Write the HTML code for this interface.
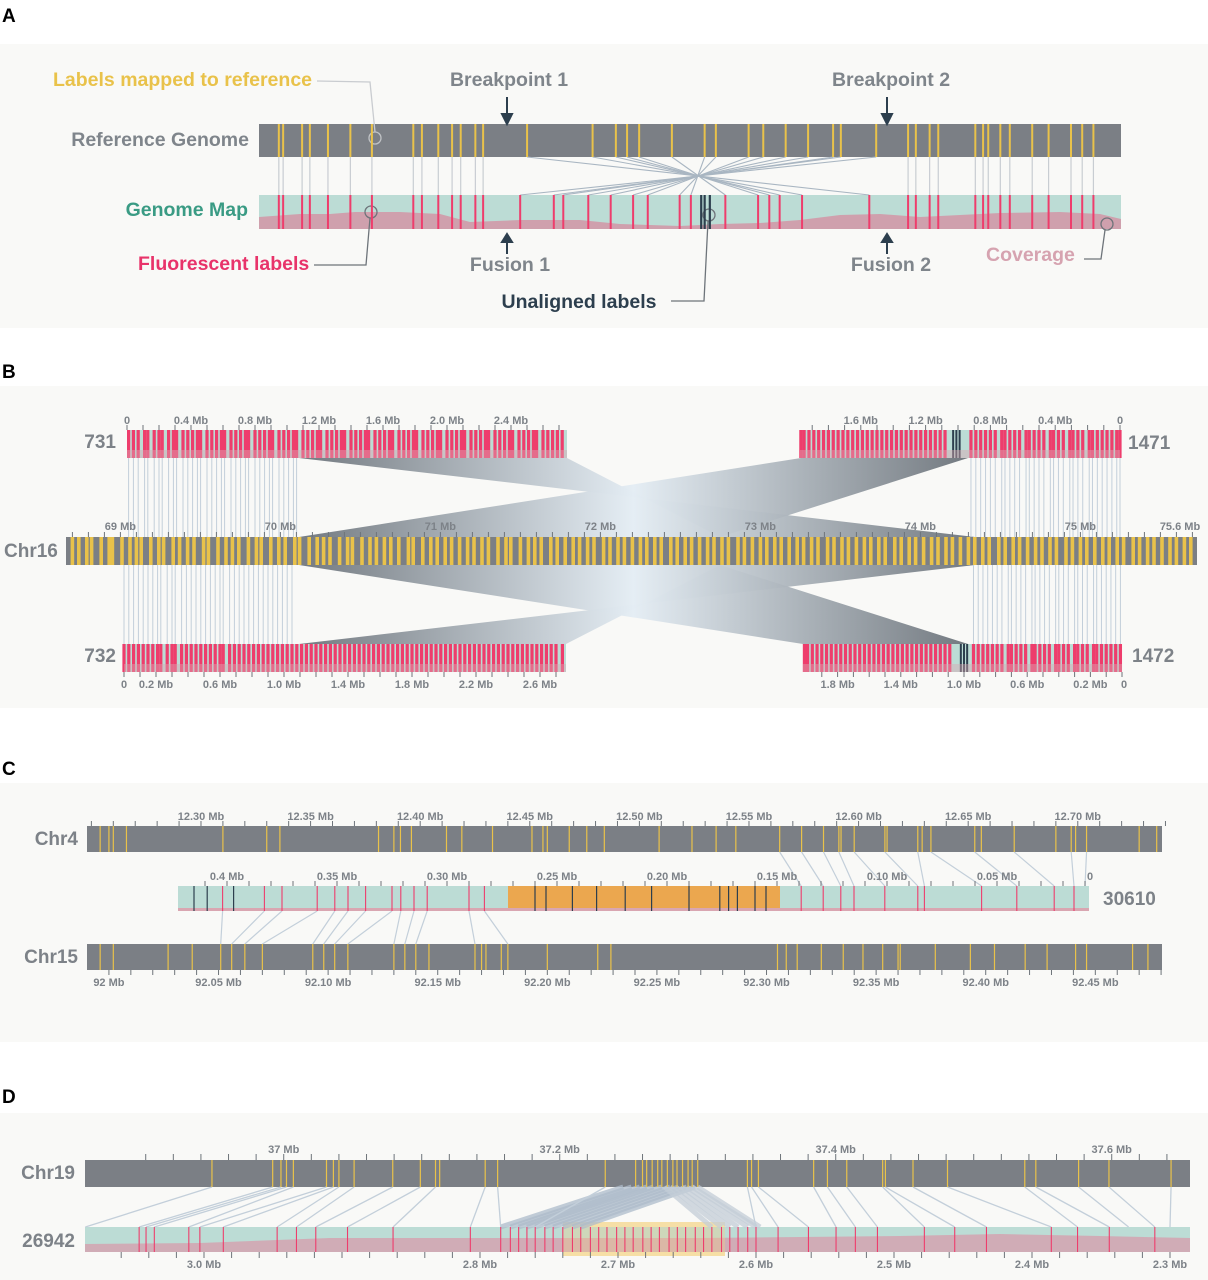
<!DOCTYPE html>
<html><head><meta charset="utf-8">
<style>
html,body{margin:0;padding:0;background:#fff;}
svg{display:block;font-family:"Liberation Sans",Arial,sans-serif;font-weight:bold;}
.t{fill:#7d8288;font-size:11px;}
.lab{fill:#7d8288;font-size:19px;}
.pl{fill:#000;font-size:19px;}
</style></head>
<body>
<svg id="fig" width="1208" height="1280" viewBox="0 0 1208 1280" xmlns="http://www.w3.org/2000/svg">
<defs>
<linearGradient id="gw" gradientUnits="userSpaceOnUse" x1="299" y1="0" x2="975" y2="0">
<stop offset="0" stop-color="#6c737a"/><stop offset="0.5" stop-color="#e4edf4"/><stop offset="1" stop-color="#6c737a"/>
</linearGradient>
<linearGradient id="gw2" gradientUnits="userSpaceOnUse" x1="299" y1="0" x2="968" y2="0">
<stop offset="0" stop-color="#6c737a"/><stop offset="0.5" stop-color="#e4edf4"/><stop offset="1" stop-color="#6c737a"/>
</linearGradient>
</defs>
<rect x="0" y="44" width="1208" height="284" fill="#f9f9f7"/>
<rect x="0" y="386" width="1208" height="322" fill="#f9f9f7"/>
<rect x="0" y="783" width="1208" height="259" fill="#f9f9f7"/>
<rect x="0" y="1113" width="1208" height="167" fill="#f9f9f7"/>
<text x="2" y="22" class="pl">A</text>
<text x="2" y="378" class="pl">B</text>
<text x="2" y="775" class="pl">C</text>
<text x="2" y="1103" class="pl">D</text>

<g id="gA">
<rect x="259" y="124" width="862" height="33" fill="#7b7f85"/>
<rect x="259" y="195" width="862" height="34" fill="#bcdcd5"/>
<path d="M259,217 L300,214 L330,214 L355,212 L400,212 L440,214 L470,222 L520,220 L580,220 L620,224 L680,226 L720,224 L760,223 L800,220 L840,215 L880,214 L920,217 L960,215 L1000,213 L1060,212 L1100,214 L1121,219 L1121,229 L259,229Z" fill="#cfa0ad"/>
</g>
<text x="53" y="86" fill="#e9c24a" font-size="19.5">Labels mapped to reference</text>
<text x="509" y="86" text-anchor="middle" fill="#7f858b" font-size="19.5">Breakpoint 1</text>
<text x="891" y="86" text-anchor="middle" fill="#7f858b" font-size="19.5">Breakpoint 2</text>
<text x="249" y="146" text-anchor="end" fill="#7f858b" font-size="19.5">Reference Genome</text>
<text x="248" y="216" text-anchor="end" fill="#3a9b84" font-size="19.5">Genome Map</text>
<text x="138" y="270" fill="#e8336a" font-size="19.5">Fluorescent labels</text>
<text x="510" y="271" text-anchor="middle" fill="#7f858b" font-size="19.5">Fusion 1</text>
<text x="891" y="271" text-anchor="middle" fill="#7f858b" font-size="19.5">Fusion 2</text>
<text x="579" y="308" text-anchor="middle" fill="#2d3f4e" font-size="19.5">Unaligned labels</text>
<text x="986" y="261" fill="#d6a3b0" font-size="19.5">Coverage</text>
<g fill="none" stroke-width="1.3">
<path d="M317,81 L370,82 L375,132" stroke="#c9ccd0"/>
<path d="M314,265 L366,265 L370,218" stroke="#6e747a"/>
<path d="M671,301 L704,301 L708,221" stroke="#6e747a"/>
<path d="M1084,259 L1101,259 L1105,230" stroke="#6e747a"/>
</g>
<g fill="none" stroke="#6e747a" stroke-width="1.3">
<circle cx="375" cy="138" r="6" stroke="#c0c3c6"/>
<circle cx="371" cy="212" r="6"/>
<circle cx="709" cy="215" r="6"/>
<circle cx="1107" cy="224" r="6"/>
</g>
<g stroke="#2d3f4e" stroke-width="2" fill="#2d3f4e">
<line x1="507" y1="97" x2="507" y2="118"/>
<path d="M502,114 L512,114 L507,124Z"/>
<line x1="887" y1="97" x2="887" y2="118"/>
<path d="M882,114 L892,114 L887,124Z"/>
<line x1="507" y1="254" x2="507" y2="240"/>
<path d="M502,242 L512,242 L507,234Z"/>
<line x1="887" y1="254" x2="887" y2="240"/>
<path d="M882,242 L892,242 L887,234Z"/>
</g>

<polygon points="299,458 975,537 720,537 567,458" fill="url(#gw)" opacity="0.95"/>
<polygon points="801,458 299,537 720,537 968,458" fill="url(#gw2)" opacity="0.95"/>
<polygon points="975,565 299,644 566,644 720,565" fill="url(#gw)" opacity="0.95"/>
<polygon points="299,565 803,644 968,644 720,565" fill="url(#gw2)" opacity="0.95"/>
<rect x="127" y="430" width="440" height="28" fill="#bcdcd5"/>
<rect x="800" y="430" width="320" height="28" fill="#bcdcd5"/>
<rect x="124" y="644" width="442" height="28" fill="#bcdcd5"/>
<rect x="803" y="644" width="319" height="28" fill="#bcdcd5"/>
<rect x="66" y="537" width="1131" height="28" fill="#7b7f85"/>
<text x="116" y="448" text-anchor="end" class="lab">731</text>
<text x="1128" y="449" class="lab">1471</text>
<text x="4" y="557" class="lab">Chr16</text>
<text x="116" y="662" text-anchor="end" class="lab">732</text>
<text x="1132" y="662" class="lab">1472</text>

<rect x="87" y="826" width="1075" height="26" fill="#7b7f85"/>
<rect x="178" y="886" width="911" height="25" fill="#bcdcd5"/>
<rect x="508" y="886" width="272" height="25" fill="#eba74f"/>
<rect x="178" y="908" width="911" height="3" fill="#d9a6b1"/>
<rect x="87" y="944" width="1075" height="26" fill="#7b7f85"/>
<text x="78" y="845" text-anchor="end" class="lab">Chr4</text>
<text x="1103" y="905" class="lab">30610</text>
<text x="78" y="963" text-anchor="end" class="lab">Chr15</text>

<rect x="85" y="1160" width="1105" height="27" fill="#7b7f85"/>
<rect x="563" y="1222" width="162" height="34" fill="#f6dfa6"/>
<rect x="85" y="1227" width="1105" height="25" fill="#bcdcd5"/>
<path d="M85,1244 L200,1243 L330,1238 L500,1238 L700,1238 L900,1236 L1000,1234 L1100,1236 L1190,1238 L1190,1252 L85,1252Z" fill="#d4a3b0" opacity="0.85"/>
<rect x="563" y="1227" width="162" height="25" fill="#f2cf8a" opacity="0.35"/>
<text x="75" y="1179" text-anchor="end" class="lab">Chr19</text>
<text x="75" y="1247" text-anchor="end" class="lab">26942</text>
</svg>
<script>
// ---------- Panel A data (kb along schematic) ----------
const refLeftA=[23,28,50,59,80,106,131,179,189,208,224,234,251,260];
const refMidA=[311,387,414,427,441,479,517,530,568,585,611,637,666,675,716];
const refRightA=[753,762,778,788,831,840,846,860,871,897,916,942,955,968];
const mapMidA=[708,630,604,592,579,541,501,488,451,434,408,382,353,342,303];
const unalignedA=[513,517,523];
// ---------- Panel B data (Mb) ----------
const chr16Labels=[68.70,68.74,68.79,68.82,68.88,68.93,68.95,69.01,69.06,69.10,69.13,69.19,69.24,69.27,69.33,69.37,69.42,69.46,69.52,69.55,69.61,69.66,69.70,69.74,69.80,69.85,69.88,69.94,69.99,70.03,70.09,70.12,70.18,70.23,70.27,70.31,70.37,70.42,70.45,70.51,70.56,70.60,70.65,70.69,70.74,70.80,70.83,70.89,70.94,70.98,71.03,71.07,71.12,71.17,71.21,71.26,71.30,71.36,71.41,71.44,71.50,71.55,71.59,71.63,71.69,71.73,71.78,71.83,71.87,71.92,71.96,72.02,72.06,72.11,72.15,72.20,72.25,72.29,72.34,72.38,72.44,72.48,72.53,72.57,72.62,72.67,72.71,72.76,72.80,72.86,72.90,72.95,73.00,73.04,73.09,73.13,73.18,73.23,73.27,73.32,73.36,73.42,73.46,73.51,73.55,73.60,73.65,73.69,73.74,73.78,73.84,73.88,73.93,73.97,74.02,74.07,74.11,74.16,74.20,74.25,74.30,74.34,74.39,74.43,74.49,74.53,74.58,74.62,74.67,74.72,74.76,74.81,74.85,74.91,74.95,75.00,75.04,75.09,75.14,75.18,75.23,75.27,75.33,75.37,75.42,75.46,75.51,75.56,75.60,75.65,75.69];
const map731=[0.01,0.04,0.07,0.11,0.13,0.17,0.20,0.22,0.26,0.29,0.31,0.35,0.38,0.41,0.44,0.46,0.50,0.53,0.56,0.59,0.61,0.65,0.68,0.71,0.74,0.76,0.80,0.83,0.86,0.89,0.91,0.95,0.98,1.01,1.04,1.06,1.10,1.13,1.16,1.19,1.21,1.25,1.28,1.31,1.34,1.36,1.40,1.43,1.46,1.49,1.51,1.55,1.58,1.61,1.64,1.66,1.70,1.73,1.76,1.79,1.81,1.85,1.88,1.91,1.94,1.96,2.00,2.03,2.06,2.09,2.11,2.15,2.18,2.21,2.24,2.26,2.30,2.33,2.36,2.39,2.41,2.45,2.48,2.51,2.54,2.56,2.60,2.63,2.66,2.69,2.72];
const map732=[0.00,0.03,0.06,0.09,0.12,0.15,0.18,0.21,0.23,0.27,0.30,0.32,0.36,0.39,0.42,0.45,0.48,0.51,0.54,0.57,0.60,0.62,0.66,0.69,0.72,0.75,0.78,0.81,0.84,0.87,0.90,0.93,0.96,0.99,1.02,1.05,1.08,1.11,1.14,1.17,1.20,1.23,1.26,1.29,1.32,1.35,1.38,1.41,1.44,1.47,1.50,1.53,1.56,1.59,1.62,1.65,1.68,1.71,1.74,1.77,1.80,1.83,1.86,1.89,1.92,1.95,1.98,2.01,2.04,2.07,2.10,2.13,2.16,2.19,2.22,2.25,2.28,2.31,2.34,2.37,2.40,2.43,2.46,2.49,2.52,2.55,2.58,2.61,2.64,2.67,2.70,2.74];
const map1471=[0.00,0.02,0.05,0.08,0.11,0.14,0.17,0.19,0.23,0.26,0.29,0.31,0.35,0.38,0.41,0.43,0.47,0.50,0.53,0.56,0.58,0.62,0.65,0.68,0.71,0.73,0.77,0.80,0.83,0.86,0.89,0.92,1.08,1.11,1.14,1.17,1.20,1.23,1.26,1.29,1.32,1.35,1.38,1.41,1.44,1.47,1.50,1.53,1.56,1.59,1.62,1.65,1.68,1.71,1.74,1.77,1.80,1.83,1.86,1.89,1.92,1.95,1.97];
const map1472=[0.01,0.04,0.07,0.10,0.13,0.16,0.18,0.22,0.25,0.28,0.30,0.34,0.37,0.40,0.42,0.46,0.49,0.52,0.55,0.57,0.61,0.64,0.67,0.70,0.72,0.76,0.79,0.82,0.85,0.88,0.91,0.94,1.09,1.12,1.15,1.18,1.21,1.24,1.27,1.30,1.33,1.36,1.39,1.42,1.45,1.48,1.51,1.54,1.57,1.60,1.63,1.66,1.69,1.72,1.75,1.78,1.81,1.84,1.87,1.90,1.93,1.96,1.99,2.01];
const unaligned1471=[0.99,1.01,1.03];
const unaligned1472=[0.98,1.00,1.02];
const ticksChr16=[69,70,71,72,73,74,75];
const ticksChr16Labels=["69 Mb","70 Mb","71 Mb","72 Mb","73 Mb","74 Mb","75 Mb"];
const ticks731=[0,0.4,0.8,1.2,1.6,2.0,2.4];
const ticks731Labels=["0","0.4 Mb","0.8 Mb","1.2 Mb","1.6 Mb","2.0 Mb","2.4 Mb"];
const ticks732=[0,0.2,0.6,1.0,1.4,1.8,2.2,2.6];
const ticks732Labels=["0","0.2 Mb","0.6 Mb","1.0 Mb","1.4 Mb","1.8 Mb","2.2 Mb","2.6 Mb"];
const ticks1471=[0,0.4,0.8,1.2,1.6];
const ticks1471Labels=["0","0.4 Mb","0.8 Mb","1.2 Mb","1.6 Mb"];
const ticks1472=[0.2,0.6,1.0,1.4,1.8];
const ticks1472Labels=["0.2 Mb","0.6 Mb","1.0 Mb","1.4 Mb","1.8 Mb"];
// ---------- Panel C data (Mb) ----------
const chr4Labels=[12.254,12.258,12.260,12.266,12.310,12.330,12.336,12.381,12.388,12.391,12.396,12.412,12.419,12.433,12.451,12.456,12.458,12.468,12.476,12.484,12.509,12.524,12.535,12.544,12.564,12.574,12.584,12.591,12.592,12.598,12.612,12.613,12.627,12.629,12.633,12.653,12.656,12.671,12.690,12.697,12.699,12.704,12.728,12.736];
const chr15Labels=[91.996,92.002,92.027,92.038,92.051,92.056,92.062,92.070,92.093,92.098,92.103,92.109,92.130,92.135,92.140,92.146,92.167,92.170,92.172,92.179,92.182,92.200,92.223,92.229,92.305,92.309,92.314,92.325,92.335,92.344,92.353,92.360,92.361,92.377,92.393,92.404,92.418,92.428,92.441,92.446,92.467,92.474];
const map30610=[0.402,0.383,0.375,0.359,0.351,0.345,0.337,0.325,0.321,0.315,0.309,0.290,0.283,0.139,0.129,0.121,0.115,0.101,0.086,0.083,0.057,0.041,0.024,0.015];
const dark30610=[0.415,0.409,0.397,0.260,0.255,0.243,0.232,0.219,0.207,0.190,0.176,0.172,0.168,0.160,0.155];
const alignC4Map=[0.139,0.129,0.121,0.115,0.101,0.086,0.083,0.057,0.041,0.024,0.015,0.010];
const alignC4Chr=[12.564,12.574,12.584,12.591,12.598,12.612,12.627,12.633,12.653,12.671,12.697,12.704];
const alignC15Map=[0.402,0.383,0.375,0.359,0.351,0.345,0.337,0.325,0.321,0.315,0.309,0.290,0.283];
const alignC15Chr=[92.051,92.056,92.062,92.070,92.093,92.098,92.103,92.109,92.130,92.135,92.140,92.167,92.182];
const ticksChr4=[12.30,12.35,12.40,12.45,12.50,12.55,12.60,12.65,12.70];
const ticksChr4Labels=["12.30 Mb","12.35 Mb","12.40 Mb","12.45 Mb","12.50 Mb","12.55 Mb","12.60 Mb","12.65 Mb","12.70 Mb"];
const ticks30610=[0.40,0.35,0.30,0.25,0.20,0.15,0.10,0.05];
const ticks30610Labels=["0.4 Mb","0.35 Mb","0.30 Mb","0.25 Mb","0.20 Mb","0.15 Mb","0.10 Mb","0.05 Mb"];
const ticksChr15=[92.00,92.05,92.10,92.15,92.20,92.25,92.30,92.35,92.40,92.45];
const ticksChr15Labels=["92 Mb","92.05 Mb","92.10 Mb","92.15 Mb","92.20 Mb","92.25 Mb","92.30 Mb","92.35 Mb","92.40 Mb","92.45 Mb"];
// ---------- Panel D data (Mb) ----------
const chr19Labels=[36.948,36.992,36.998,37.002,37.007,37.031,37.036,37.040,37.051,37.079,37.099,37.110,37.113,37.146,37.155,37.233,37.255,37.260,37.263,37.267,37.271,37.274,37.278,37.282,37.285,37.289,37.293,37.296,37.300,37.336,37.339,37.344,37.384,37.394,37.408,37.434,37.436,37.456,37.481,37.537,37.545,37.576,37.598,37.643];
const map26942=[3.047,3.042,3.036,3.011,3.003,2.986,2.947,2.933,2.919,2.896,2.863,2.807,2.785,2.778,2.772,2.766,2.760,2.753,2.747,2.740,2.733,2.727,2.720,2.714,2.708,2.701,2.695,2.689,2.682,2.676,2.670,2.663,2.657,2.651,2.644,2.638,2.632,2.625,2.619,2.613,2.606,2.600,2.584,2.562,2.542,2.528,2.512,2.478,2.456,2.433,2.386,2.367,2.344,2.311];
const alignD19Chr=[36.948,36.992,36.998,37.002,37.007,37.031,37.036,37.040,37.051,37.079,37.099,37.110,37.146,37.155,37.233,37.336,37.339,37.344,37.384,37.394,37.408,37.434,37.436,37.456,37.481,37.537,37.545,37.576,37.598,37.643];
const alignD19Map=[3.086,3.047,3.042,3.036,3.011,3.003,2.986,2.947,2.933,2.919,2.896,2.863,2.807,2.785,2.760,2.600,2.584,2.562,2.542,2.528,2.512,2.478,2.456,2.433,2.386,2.367,2.344,2.330,2.311,2.300];
const invChrL=[37.246,37.252,37.258,37.263,37.268,37.274,37.280,37.286,37.292,37.298];
const invMapL=[2.785,2.778,2.772,2.766,2.760,2.753,2.747,2.740,2.733,2.727];
const invChrR=[37.276,37.280,37.284,37.288,37.292,37.296,37.300];
const invMapR=[2.632,2.625,2.619,2.613,2.606,2.600,2.597];
const ticksChr19=[37.0,37.2,37.4,37.6];
const ticksChr19Labels=["37 Mb","37.2 Mb","37.4 Mb","37.6 Mb"];
const ticks26942=[3.0,2.8,2.7,2.6,2.5,2.4,2.3];
const ticks26942Labels=["3.0 Mb","2.8 Mb","2.7 Mb","2.6 Mb","2.5 Mb","2.4 Mb","2.3 Mb"];

const NS='http://www.w3.org/2000/svg';
const svg=document.getElementById('fig');
function mk(tag,attrs){const e=document.createElementNS(NS,tag);for(const k in attrs)e.setAttribute(k,attrs[k]);svg.appendChild(e);return e;}
function ln(x1,y1,x2,y2,c,w){return mk('line',{x1:x1,y1:y1,x2:x2,y2:y2,stroke:c,'stroke-width':w});}
function tx(x,y,s,anchor){const e=mk('text',{x:x,y:y,'text-anchor':anchor||'middle','class':'t'});e.textContent=s;return e;}

const xA=k=>259+k*0.862;
const x731=m=>127+m*160, x732=m=>124+m*160, x1471=m=>1120-m*162, x1472=m=>1122-m*158;
const x16=c=>66+(c-68.66)*160;
const x4=c=>87+(c-12.248)*2192, x15=c=>87+(c-91.99)*2192, x306=m=>1107-m*2200;
const x19=c=>85+(c-36.856)*1380, x269=m=>204+(3.0-m)*1380;

const YEL='#e9c24a', RED='#ee3d6c', LINK='#c3cfda', DARK='#2d3f4e';

// ---- Panel A ----
refLeftA.concat(refRightA).forEach(k=>{
  let e=ln(xA(k),157,xA(k),195,'#c8cdd2',1.2);
  
  
});
refMidA.forEach((k,i)=>{
  let e=ln(xA(k),157,xA(mapMidA[i]),195,'#a9b6c2',1.1);
  
  
});
refLeftA.concat(refMidA,refRightA).forEach(k=>{
  let e=ln(xA(k),124,xA(k),157,YEL,2);
  
  
});
refLeftA.concat(mapMidA,refRightA).forEach(k=>{
  let e=ln(xA(k),195,xA(k),229,RED,2);
  
  
});
unalignedA.forEach(k=>{
  let e=ln(xA(k),195,xA(k),229,DARK,2.2);
  
  
});

// ---- Panel B ----
map731.filter(m=>m<1.08).forEach(m=>{
  let e=ln(x731(m),458,x731(m),537,LINK,1);
  
  
});
map732.filter(m=>m<1.08).forEach(m=>{
  let e=ln(x732(m),565,x732(m),644,LINK,1);
  
  
});
map1471.filter(m=>m<0.95).forEach(m=>{
  let e=ln(x1471(m),458,x1471(m),537,LINK,1);
  
  
});
map1472.filter(m=>m<0.95).forEach(m=>{
  let e=ln(x1472(m),565,x1472(m),644,LINK,1);
  
  
});
chr16Labels.forEach(c=>{
  let e=ln(x16(c),537,x16(c),565,YEL,3.6);
  
  
});
[[map731,x731,430,458],[map732,x732,644,672],[map1471,x1471,430,458],[map1472,x1472,644,672]].forEach(([arr,f,y1,y2])=>{
  arr.forEach(m=>{
    let e=ln(f(m),y1,f(m),y2,RED,3.2);
    
    
  });
});
[[unaligned1471,x1471,430,458],[unaligned1472,x1472,644,672]].forEach(([arr,f,y1,y2])=>{
  arr.forEach(m=>{
    let e=ln(f(m),y1,f(m),y2,DARK,2);
    
    
  });
});
[[127,450,440],[800,450,320],[124,664,442],[803,664,319]].forEach(([x,y,w])=>{
  let e=mk('rect',{x:x,y:y,width:w,height:8,fill:'#d9a6b1',opacity:0.45});
  
  
});
for(let m=0;m<=2.75;m+=0.1){let e=ln(x731(m),425,x731(m),430,'#6e747a',1);}
for(let m=0;m<=2.75;m+=0.1){let e=ln(x732(m),672,x732(m),677,'#6e747a',1);}
for(let m=0;m<=1.97;m+=0.1){let e=ln(x1471(m),425,x1471(m),430,'#6e747a',1);}
for(let m=0;m<=2.0;m+=0.1){let e=ln(x1472(m),672,x1472(m),677,'#6e747a',1);}
for(let c=68.7;c<=75.7;c+=0.1){let e=ln(x16(c),532,x16(c),537,'#6e747a',1);}
ticks731.forEach((v,i)=>{let e=tx(x731(v),424,ticks731Labels[i]);});
ticks732.forEach((v,i)=>{let e=tx(x732(v),688,ticks732Labels[i]);});
ticks1471.forEach((v,i)=>{let e=tx(x1471(v),424,ticks1471Labels[i]);});
ticks1472.forEach((v,i)=>{let e=tx(x1472(v),688,ticks1472Labels[i]);});
{let e=tx(1124,688,'0');}
ticksChr16.forEach((v,i)=>{let e=tx(x16(v),530,ticksChr16Labels[i]);});
{let e=tx(1180,530,'75.6 Mb');}

// ---- Panel C ----
alignC4Map.forEach((m,i)=>{
  let e=ln(x306(m),886,x4(alignC4Chr[i]),852,LINK,1.2);
  
  
});
alignC15Map.forEach((m,i)=>{
  let e=ln(x306(m),911,x15(alignC15Chr[i]),944,LINK,1.2);
  
  
});
chr4Labels.forEach(c=>{let e=ln(x4(c),826,x4(c),852,YEL,1.2);});
chr15Labels.forEach(c=>{let e=ln(x15(c),944,x15(c),970,YEL,1.2);});
map30610.forEach(m=>{let e=ln(x306(m),886,x306(m),911,RED,1.1);});
dark30610.forEach(m=>{let e=ln(x306(m),886,x306(m),911,DARK,1.2);});
for(let c=12.25;c<=12.745;c+=0.01){let e=ln(x4(c),821,x4(c),826,'#6e747a',1);}
for(let m=0.01;m<=0.42;m+=0.01){let e=ln(x306(m),881,x306(m),886,'#6e747a',1);}
for(let c=92.0;c<=92.485;c+=0.01){let e=ln(x15(c),970,x15(c),975,'#6e747a',1);}
ticksChr4.forEach((v,i)=>{let e=tx(x4(v),820,ticksChr4Labels[i]);});
ticks30610.forEach((v,i)=>{let e=tx(x306(v),880,ticks30610Labels[i]);});
{let e=tx(1090,880,'0');}
ticksChr15.forEach((v,i)=>{let e=tx(x15(v),986,ticksChr15Labels[i]);});

// ---- Panel D ----
invChrL.forEach((c,i)=>{
  let e=ln(x19(c),1187,x269(invMapL[i]),1227,'#aebccb',5);
  
  e.setAttribute('opacity','0.75');
  
});
invChrR.forEach((c,i)=>{
  let e=ln(x19(c),1187,x269(invMapR[i]),1227,'#c4ced8',5);
  
  e.setAttribute('opacity','0.75');
  
});
alignD19Chr.forEach((c,i)=>{
  let e=ln(x19(c),1187,x269(alignD19Map[i]),1227,LINK,1.3);
  
  
});
chr19Labels.forEach(c=>{let e=ln(x19(c),1160,x19(c),1187,YEL,1.2);});
map26942.forEach(m=>{let e=ln(x269(m),1227,x269(m),1252,RED,1.1);});
for(let c=36.9;c<=37.66;c+=0.02){let e=ln(x19(c),1154,x19(c),1160,'#6e747a',1);}
for(let m=2.3;m<=3.07;m+=0.02){let e=ln(x269(m),1252,x269(m),1258,'#6e747a',1);}
ticksChr19.forEach((v,i)=>{let e=tx(x19(v),1153,ticksChr19Labels[i]);});
ticks26942.forEach((v,i)=>{let e=tx(x269(v),1268,ticks26942Labels[i]);});
</script>
</body></html>
